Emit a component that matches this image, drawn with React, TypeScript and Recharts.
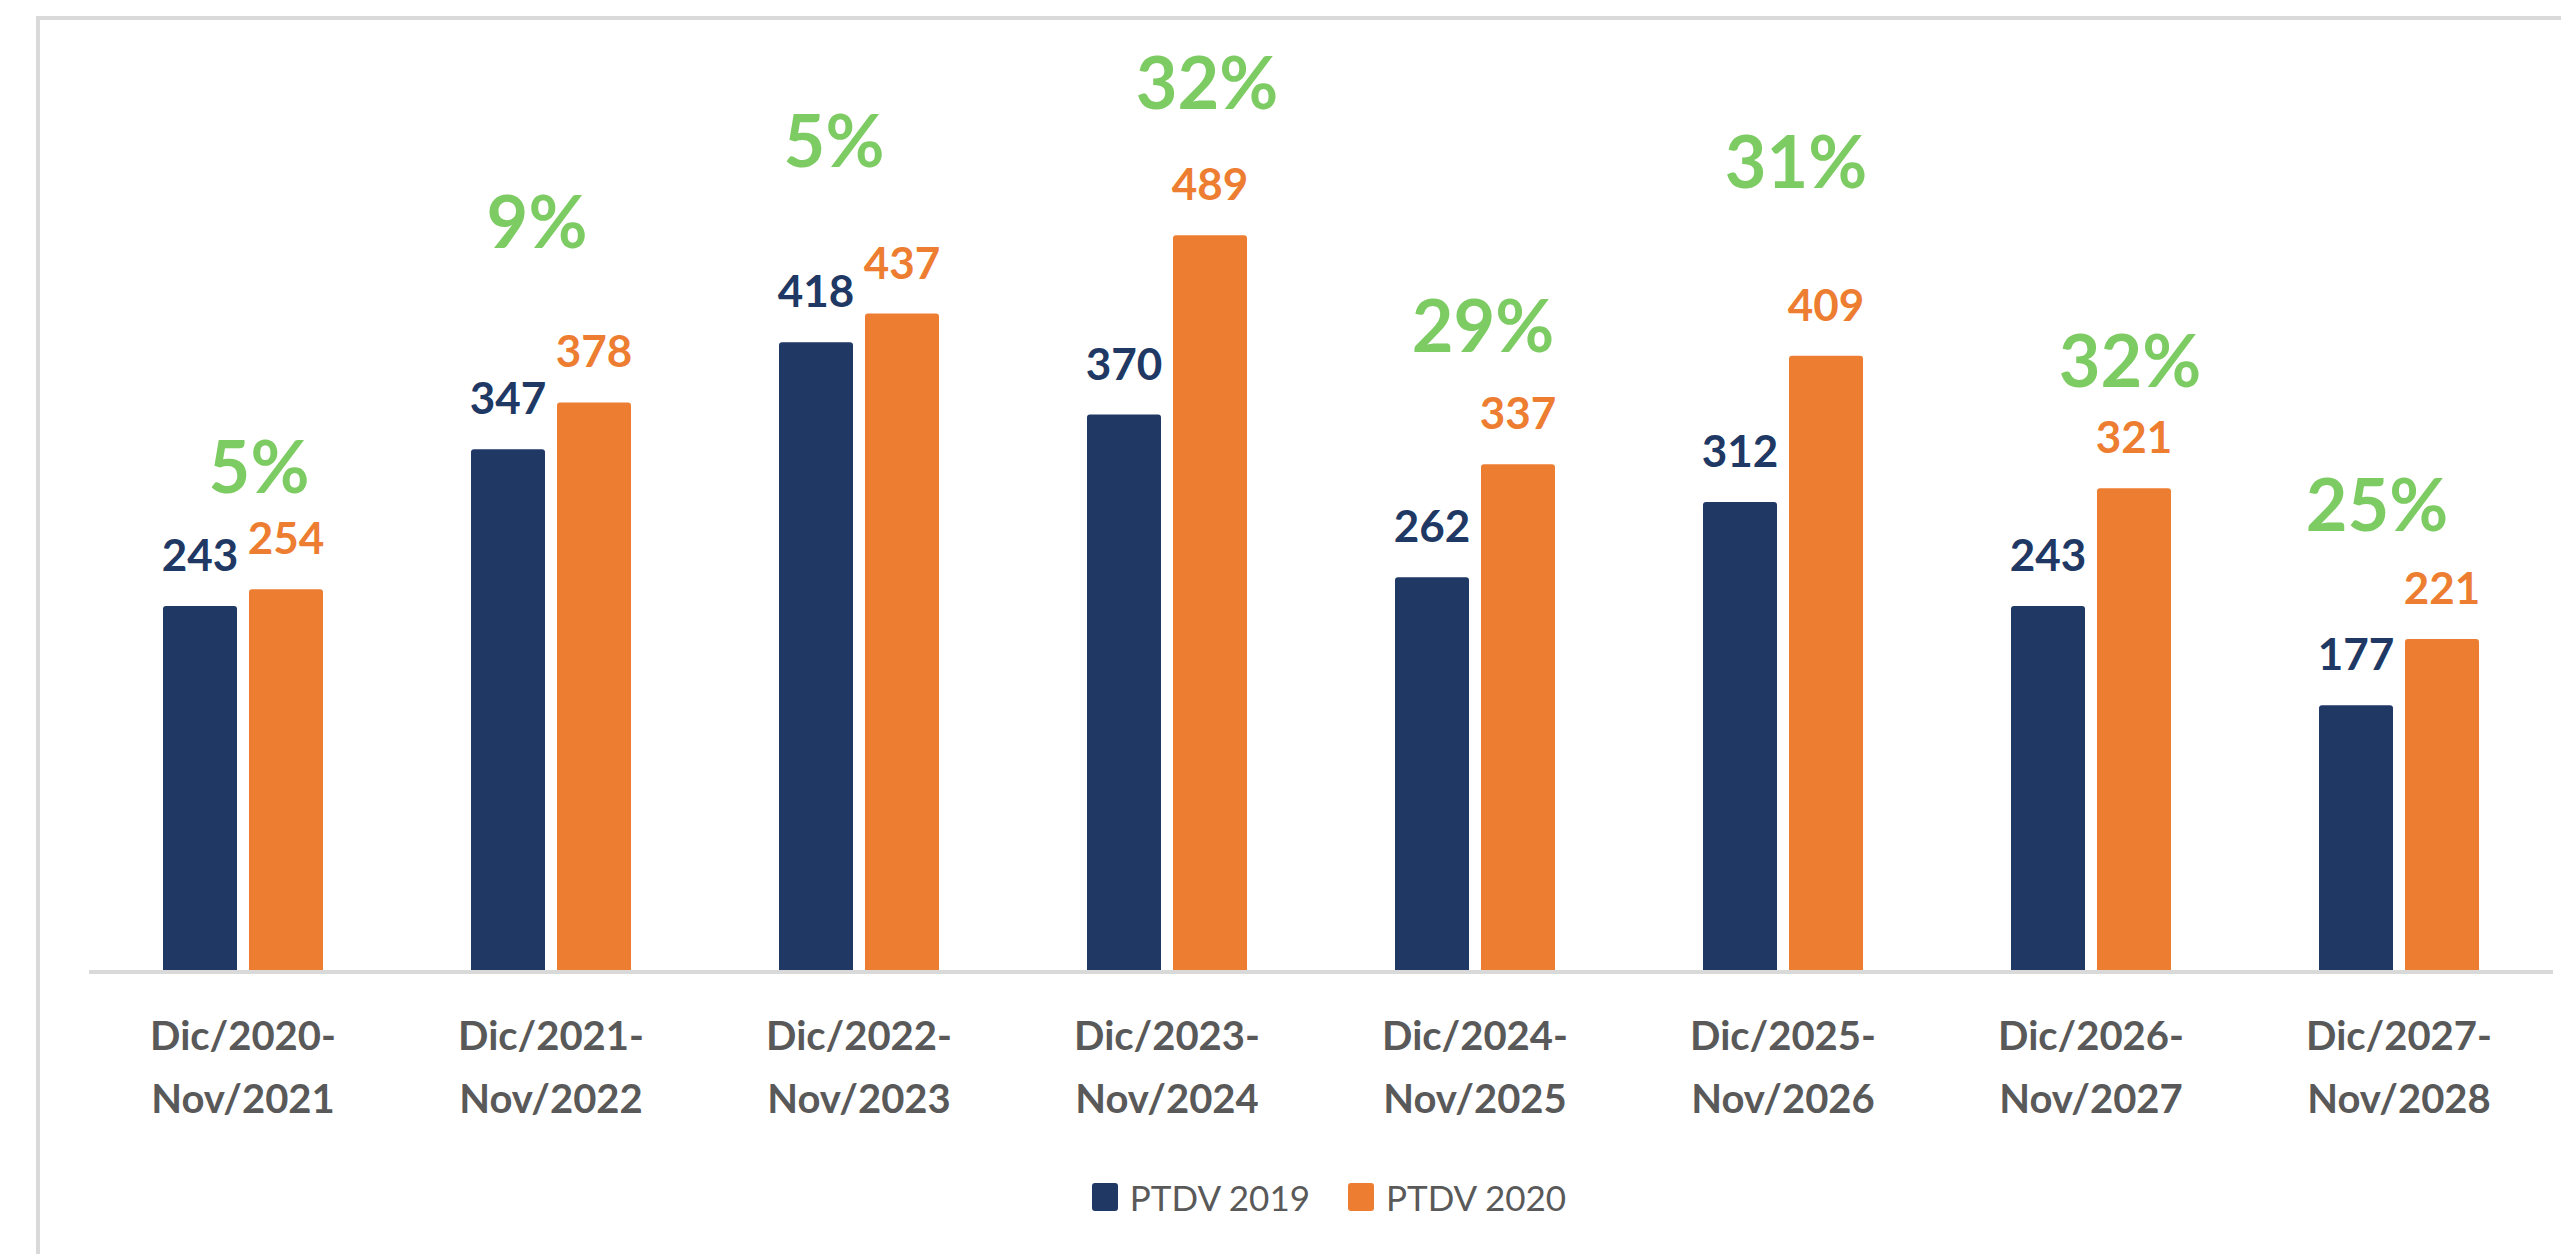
import React from 'react';
import { BarChart, Bar, XAxis, YAxis, Legend, LabelList } from 'recharts';

const periods = [
  'Dic/2020-Nov/2021',
  'Dic/2021-Nov/2022',
  'Dic/2022-Nov/2023',
  'Dic/2023-Nov/2024',
  'Dic/2024-Nov/2025',
  'Dic/2025-Nov/2026',
  'Dic/2026-Nov/2027',
  'Dic/2027-Nov/2028',
];
const ptdv2019 = [243, 347, 418, 370, 262, 312, 243, 177];
const ptdv2020 = [254, 378, 437, 489, 337, 409, 321, 221];
const growthPct = [5, 9, 5, 32, 29, 31, 32, 25];

// where each green % callout sits, relative to its group (px): lift above the orange bar, sideways shift
const calloutLift = [96, 154, 147, 126, 112, 168, 101, 108];
const calloutShift = [16, -14, -25, 40, 8, 13, 39, -22];

const data = periods.map((p, i) => ({ period: p, p2019: ptdv2019[i], p2020: ptdv2020[i] }));

const BLUE = '#203864';
const ORANGE = '#ED7D31';
const GREEN = '#7DCB63';
const GREY = '#595959';
const FONT = 'Lato, "Open Sans", sans-serif';

const PeriodTick = (props: any) => {
  const { x, y, payload } = props;
  const cut = payload.value.indexOf('-') + 1;
  const first = payload.value.slice(0, cut);
  const second = payload.value.slice(cut);
  return (
    <g>
      <text x={x} y={y + 70} textAnchor="middle" fill={GREY} fontSize={40} fontWeight={700} fontFamily={FONT}>{first}</text>
      <text x={x} y={y + 133} textAnchor="middle" fill={GREY} fontSize={40} fontWeight={700} fontFamily={FONT}>{second}</text>
    </g>
  );
};

const GrowthCallout = (props: any) => {
  const { x, y, index } = props;
  const center = x - 6;
  return (
    <text x={center + calloutShift[index]} y={y - calloutLift[index]} textAnchor="middle" fill={GREEN} fontSize={72} fontWeight={700} fontFamily={FONT}>
      {growthPct[index]}%
    </text>
  );
};

const renderLegend = () => (
  <div style={{ height: 40, display: 'flex', justifyContent: 'center', alignItems: 'center', paddingLeft: 16, fontFamily: FONT, fontSize: 35, color: GREY }}>
    {[
      { name: 'PTDV 2019', color: BLUE },
      { name: 'PTDV 2020', color: ORANGE },
    ].map((item, i) => (
      <div key={item.name} style={{ display: 'flex', alignItems: 'center', marginLeft: i ? 38 : 0 }}>
        <span style={{ width: 26, height: 28, background: item.color, borderRadius: 3, marginRight: 12, display: 'inline-block' }} />
        <span>{item.name}</span>
      </div>
    ))}
  </div>
);

export default function App() {
  return (
    <div style={{ position: 'absolute', left: 0, top: 0, width: 2561, height: 1254, overflow: 'hidden', background: '#fff' }}>
      <div style={{ position: 'absolute', left: 36, top: 16, width: 2600, height: 1300, borderLeft: '4px solid #D9D9D9', borderTop: '4px solid #D9D9D9' }} />
      <div style={{ position: 'absolute', left: 0, top: 0 }}>
        <BarChart width={2561} height={1254} data={data} margin={{ top: 68, right: 8, left: 89, bottom: 37 }} barGap={12} barSize={74}>
          <XAxis dataKey="period" height={205} tickLine={false} axisLine={{ stroke: '#D9D9D9', strokeWidth: 4 }} tick={<PeriodTick />} interval={0} />
          <YAxis hide domain={[0, 600]} />
          <Legend verticalAlign="bottom" content={renderLegend} />
          <Bar dataKey="p2019" name="PTDV 2019" fill={BLUE} radius={[3, 3, 0, 0]} isAnimationActive={false}>
            <LabelList dataKey="p2019" position="top" offset={35} fill={BLUE} fontSize={44} fontWeight={700} fontFamily={FONT} />
          </Bar>
          <Bar dataKey="p2020" name="PTDV 2020" fill={ORANGE} radius={[3, 3, 0, 0]} isAnimationActive={false}>
            <LabelList dataKey="p2020" position="top" offset={35} fill={ORANGE} fontSize={44} fontWeight={700} fontFamily={FONT} />
            <LabelList dataKey="p2020" content={<GrowthCallout />} />
          </Bar>
        </BarChart>
      </div>
    </div>
  );
}
